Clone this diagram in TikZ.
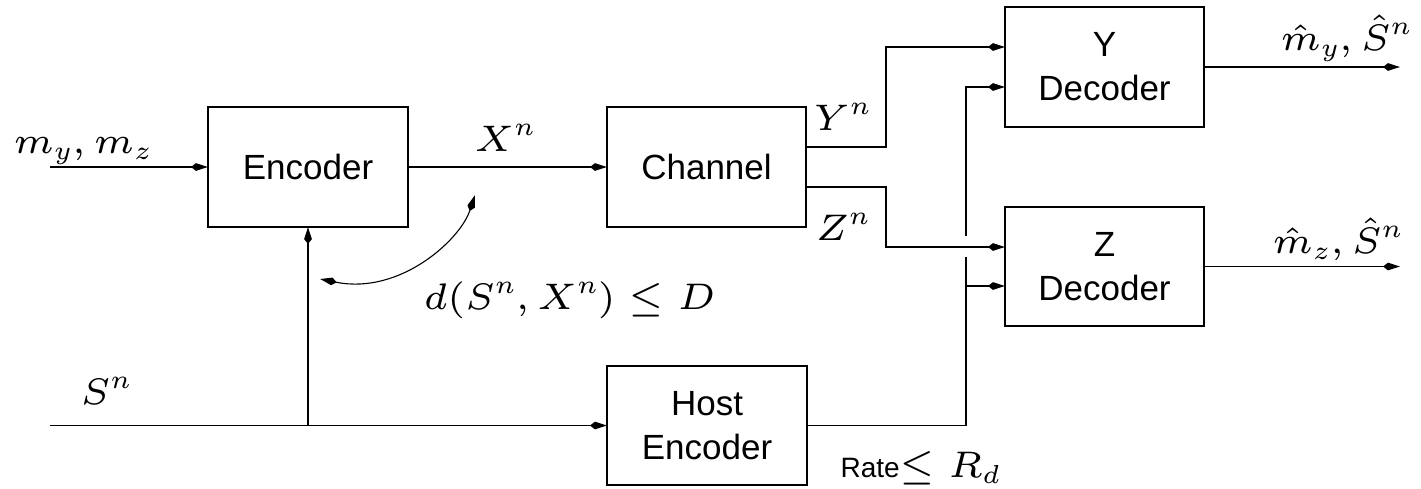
\RequirePackage{fix-cm}
\documentclass[tikz,border=0pt]{standalone}
\usepackage[no-math]{fontspec}
\setmainfont{Liberation Sans}
\usetikzlibrary{arrows.meta}
% maths set in the small-design-size Computer Modern cuts, scaled up
\DeclareFontFamily{OML}{smi}{\skewchar\font=127}
\DeclareFontShape{OML}{smi}{m}{it}{<-> cmmi6}{}
\DeclareFontFamily{OT1}{srm}{}
\DeclareFontShape{OT1}{srm}{m}{n}{<-> cmr6}{}
\DeclareFontFamily{OMS}{ssy}{\skewchar\font=48}
\DeclareFontShape{OMS}{ssy}{m}{n}{<-> cmsy6}{}
\DeclareSymbolFont{operators}{OT1}{srm}{m}{n}
\DeclareSymbolFont{letters}{OML}{smi}{m}{it}
\DeclareSymbolFont{symbols}{OMS}{ssy}{m}{n}
\DeclareMathSizes{37}{37}{26}{20}
\begin{document}
\begin{tikzpicture}[x=1pt,y=-1pt,line width=1.1pt,
  kite/.tip={Stealth[length=12pt,width=7pt,inset=-5pt]},
  arr/.style={-kite},
  both/.style={kite-kite},
  blk/.style={draw,inner sep=0pt,outer sep=0pt,minimum width=200pt,
    minimum height=120pt,align=center,font=\fontsize{35}{44}\selectfont},
  lab/.style={inner sep=0pt,font=\fontsize{37}{44}\selectfont}]
\useasboundingbox (0,0) rectangle (1421,488);

% blocks
\node[blk] (enc) at (308,167) {Encoder};
\node[blk,minimum width=199pt] (chan) at (706.5,167) {Channel};
\node[blk,minimum height=119pt] (host) at (707,425.5) {Host\\Encoder};
\node[blk,minimum width=199pt] (ydec) at (1104.5,67) {Y\\Decoder};
\node[blk,minimum width=199pt,minimum height=119pt] (zdec) at (1104.5,266.5) {Z\\Decoder};

% free ends and junctions
\coordinate (min) at (50,167);
\coordinate (sin) at (50,425.5);
\coordinate (yout) at (1400,67);
\coordinate (zout) at (1400,266.5);
\coordinate (jlo) at (966,257);
\coordinate (jhi) at (966,236);
\coordinate (zlo) at ([yshift=-19.5pt]zdec.west);
\coordinate (ca) at (320,279);
\coordinate (cb) at (475,195);

% signal paths
\draw[arr] (min) -- (enc.west);
\draw[arr] (enc.east) -- (chan.west);
\draw[arr] ([yshift=20pt]chan.east) -- ++(80,0) |- ([yshift=20pt]ydec.west);
\draw[arr] ([yshift=-20pt]chan.east) -- ++(80,0) |- ([yshift=19.5pt]zdec.west);
\draw[arr] (sin) -- (host.west);
\draw[arr] (enc.south |- sin) -- (enc.south);
\draw (host.east) -| (jlo);
\draw[arr] (jhi) |- ([yshift=-20pt]ydec.west);
\draw[arr] (jlo |- zlo) -- (zlo);
\draw[arr] (ydec.east) -- (yout);
\draw[arr] (zdec.east) -- (zout);
\draw[both] (ca) .. controls (400,295) and (460,240) .. (cb);

% labels
\node[lab,anchor=base west] (lmin) at (13,153) {$m_y, m_z$};
\node[lab,anchor=base west] (lx) at (474,151) {$X^n$};
\node[lab,anchor=base west] (ly) at (813,130) {$Y^n$};
\node[lab,anchor=base west] (lz) at (815,240) {$Z^n$};
\node[lab,anchor=base west] (ld) at (423,309) {$d(S^n, X^n) \le D$};
\node[lab,anchor=base west] (ls) at (80,404) {$S^n$};
\node[lab,anchor=base west] (lyo) at (1280,50) {$\hat m_y, \hat S^n$};
\node[lab,anchor=base west] (lzo) at (1272,253) {$\hat m_z, \hat S^n$};
\node[inner sep=0pt,anchor=base west,font=\fontsize{28}{30}\selectfont] (lrate) at (840,477)
  {Rate{\fontsize{37}{44}\selectfont$\le R_d$}};
\end{tikzpicture}
\end{document}
